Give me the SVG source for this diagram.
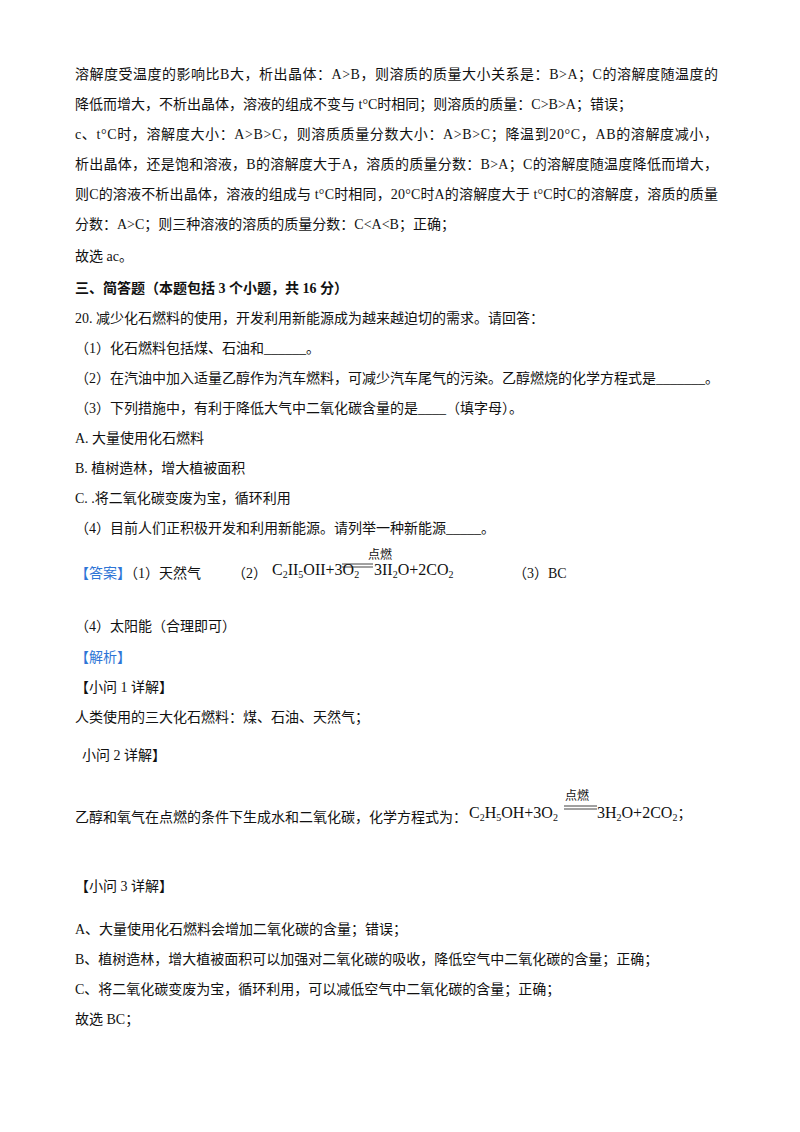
<svg xmlns="http://www.w3.org/2000/svg" width="800" height="1132" viewBox="0 0 800 1132">
<style>
text{font-family:"Liberation Serif","Noto Sans CJK SC",serif;font-size:14px;fill:#111}
.b{font-weight:bold}
.blue{fill:#2e75d6}
.f{font-size:16px}
.s{font-size:10px}
.sm{font-size:12px}
</style>
<rect width="800" height="1132" fill="#fff"/>
<g id="text">
<text x="75" y="79" textLength="643" lengthAdjust="spacing">溶解度受温度的影响比B大，析出晶体：A&gt;B，则溶质的质量大小关系是：B&gt;A；C的溶解度随温度的</text>
<text x="75" y="109">降低而增大，不析出晶体，溶液的组成不变与 t°C时相同；则溶质的质量：C&gt;B&gt;A；错误；</text>
<text x="75" y="139" textLength="643" lengthAdjust="spacing">c、t°C时，溶解度大小：A&gt;B&gt;C，则溶质质量分数大小：A&gt;B&gt;C；降温到20°C，AB的溶解度减小，</text>
<text x="75" y="169" textLength="643" lengthAdjust="spacing">析出晶体，还是饱和溶液，B的溶解度大于A，溶质的质量分数：B&gt;A；C的溶解度随温度降低而增大，</text>
<text x="75" y="199" textLength="643" lengthAdjust="spacing">则C的溶液不析出晶体，溶液的组成与 t°C时相同，20°C时A的溶解度大于 t°C时C的溶解度，溶质的质量</text>
<text x="75" y="229">分数：A&gt;C；则三种溶液的溶质的质量分数：C&lt;A&lt;B；正确；</text>
<text x="75" y="261">故选 ac。</text>
<text x="75" y="293" class="b">三、简答题（本题包括 3 个小题，共 16 分）</text>
<text x="75" y="323">20. 减少化石燃料的使用，开发利用新能源成为越来越迫切的需求。请回答：</text>
<text x="75" y="353">（1）化石燃料包括煤、石油和______。</text>
<text x="75" y="383">（2）在汽油中加入适量乙醇作为汽车燃料，可减少汽车尾气的污染。乙醇燃烧的化学方程式是_______。</text>
<text x="75" y="413">（3）下列措施中，有利于降低大气中二氧化碳含量的是____（填字母）。</text>
<text x="75" y="443">A. 大量使用化石燃料</text>
<text x="75" y="473">B. 植树造林，增大植被面积</text>
<text x="75" y="503">C. .将二氧化碳变废为宝，循环利用</text>
<text x="75" y="533">（4）目前人们正积极开发和利用新能源。请列举一种新能源_____。</text>
<text x="75" y="578"><tspan class="blue">【答案】</tspan>（1）天然气</text>
<text x="232" y="578">（2）</text>
<text x="272" y="575" class="f">C<tspan class="s" dy="3">2</tspan><tspan dy="-3">II</tspan><tspan class="s" dy="3">5</tspan><tspan dy="-3">OII+3O</tspan><tspan class="s" dy="3">2</tspan></text>
<text x="368" y="559" class="sm">点燃</text>
<line x1="342" y1="564" x2="373" y2="564" stroke="#111" stroke-width="0.8"/>
<line x1="342" y1="567" x2="373" y2="567" stroke="#111" stroke-width="0.8"/>
<text x="374" y="575" class="f">3II<tspan class="s" dy="3">2</tspan><tspan dy="-3">O+2CO</tspan><tspan class="s" dy="3">2</tspan></text>
<text x="513" y="578">（3）BC</text>
<text x="75" y="631">（4）太阳能（合理即可）</text>
<text x="75" y="662" class="blue">【解析】</text>
<text x="75" y="692">【小问 1 详解】</text>
<text x="75" y="722">人类使用的三大化石燃料：煤、石油、天然气；</text>
<text x="82" y="760">小问 2 详解】</text>
<text x="75" y="822">乙醇和氧气在点燃的条件下生成水和二氧化碳，化学方程式为：</text>
<text x="469" y="818" class="f">C<tspan class="s" dy="3">2</tspan><tspan dy="-3">H</tspan><tspan class="s" dy="3">5</tspan><tspan dy="-3">OH+3O</tspan><tspan class="s" dy="3">2</tspan></text>
<text x="565" y="800" class="sm">点燃</text>
<line x1="564" y1="806" x2="597" y2="806" stroke="#111" stroke-width="0.8"/>
<line x1="564" y1="809" x2="597" y2="809" stroke="#111" stroke-width="0.8"/>
<text x="597" y="818" class="f">3H<tspan class="s" dy="3">2</tspan><tspan dy="-3">O+2CO</tspan><tspan class="s" dy="3">2</tspan><tspan dy="-3" font-size="14">；</tspan></text>
<text x="75" y="891">【小问 3 详解】</text>
<text x="75" y="934">A、大量使用化石燃料会增加二氧化碳的含量；错误；</text>
<text x="75" y="964">B、植树造林，增大植被面积可以加强对二氧化碳的吸收，降低空气中二氧化碳的含量；正确；</text>
<text x="75" y="994">C、将二氧化碳变废为宝，循环利用，可以减低空气中二氧化碳的含量；正确；</text>
<text x="75" y="1024">故选 BC；</text>
</g>
</svg>
